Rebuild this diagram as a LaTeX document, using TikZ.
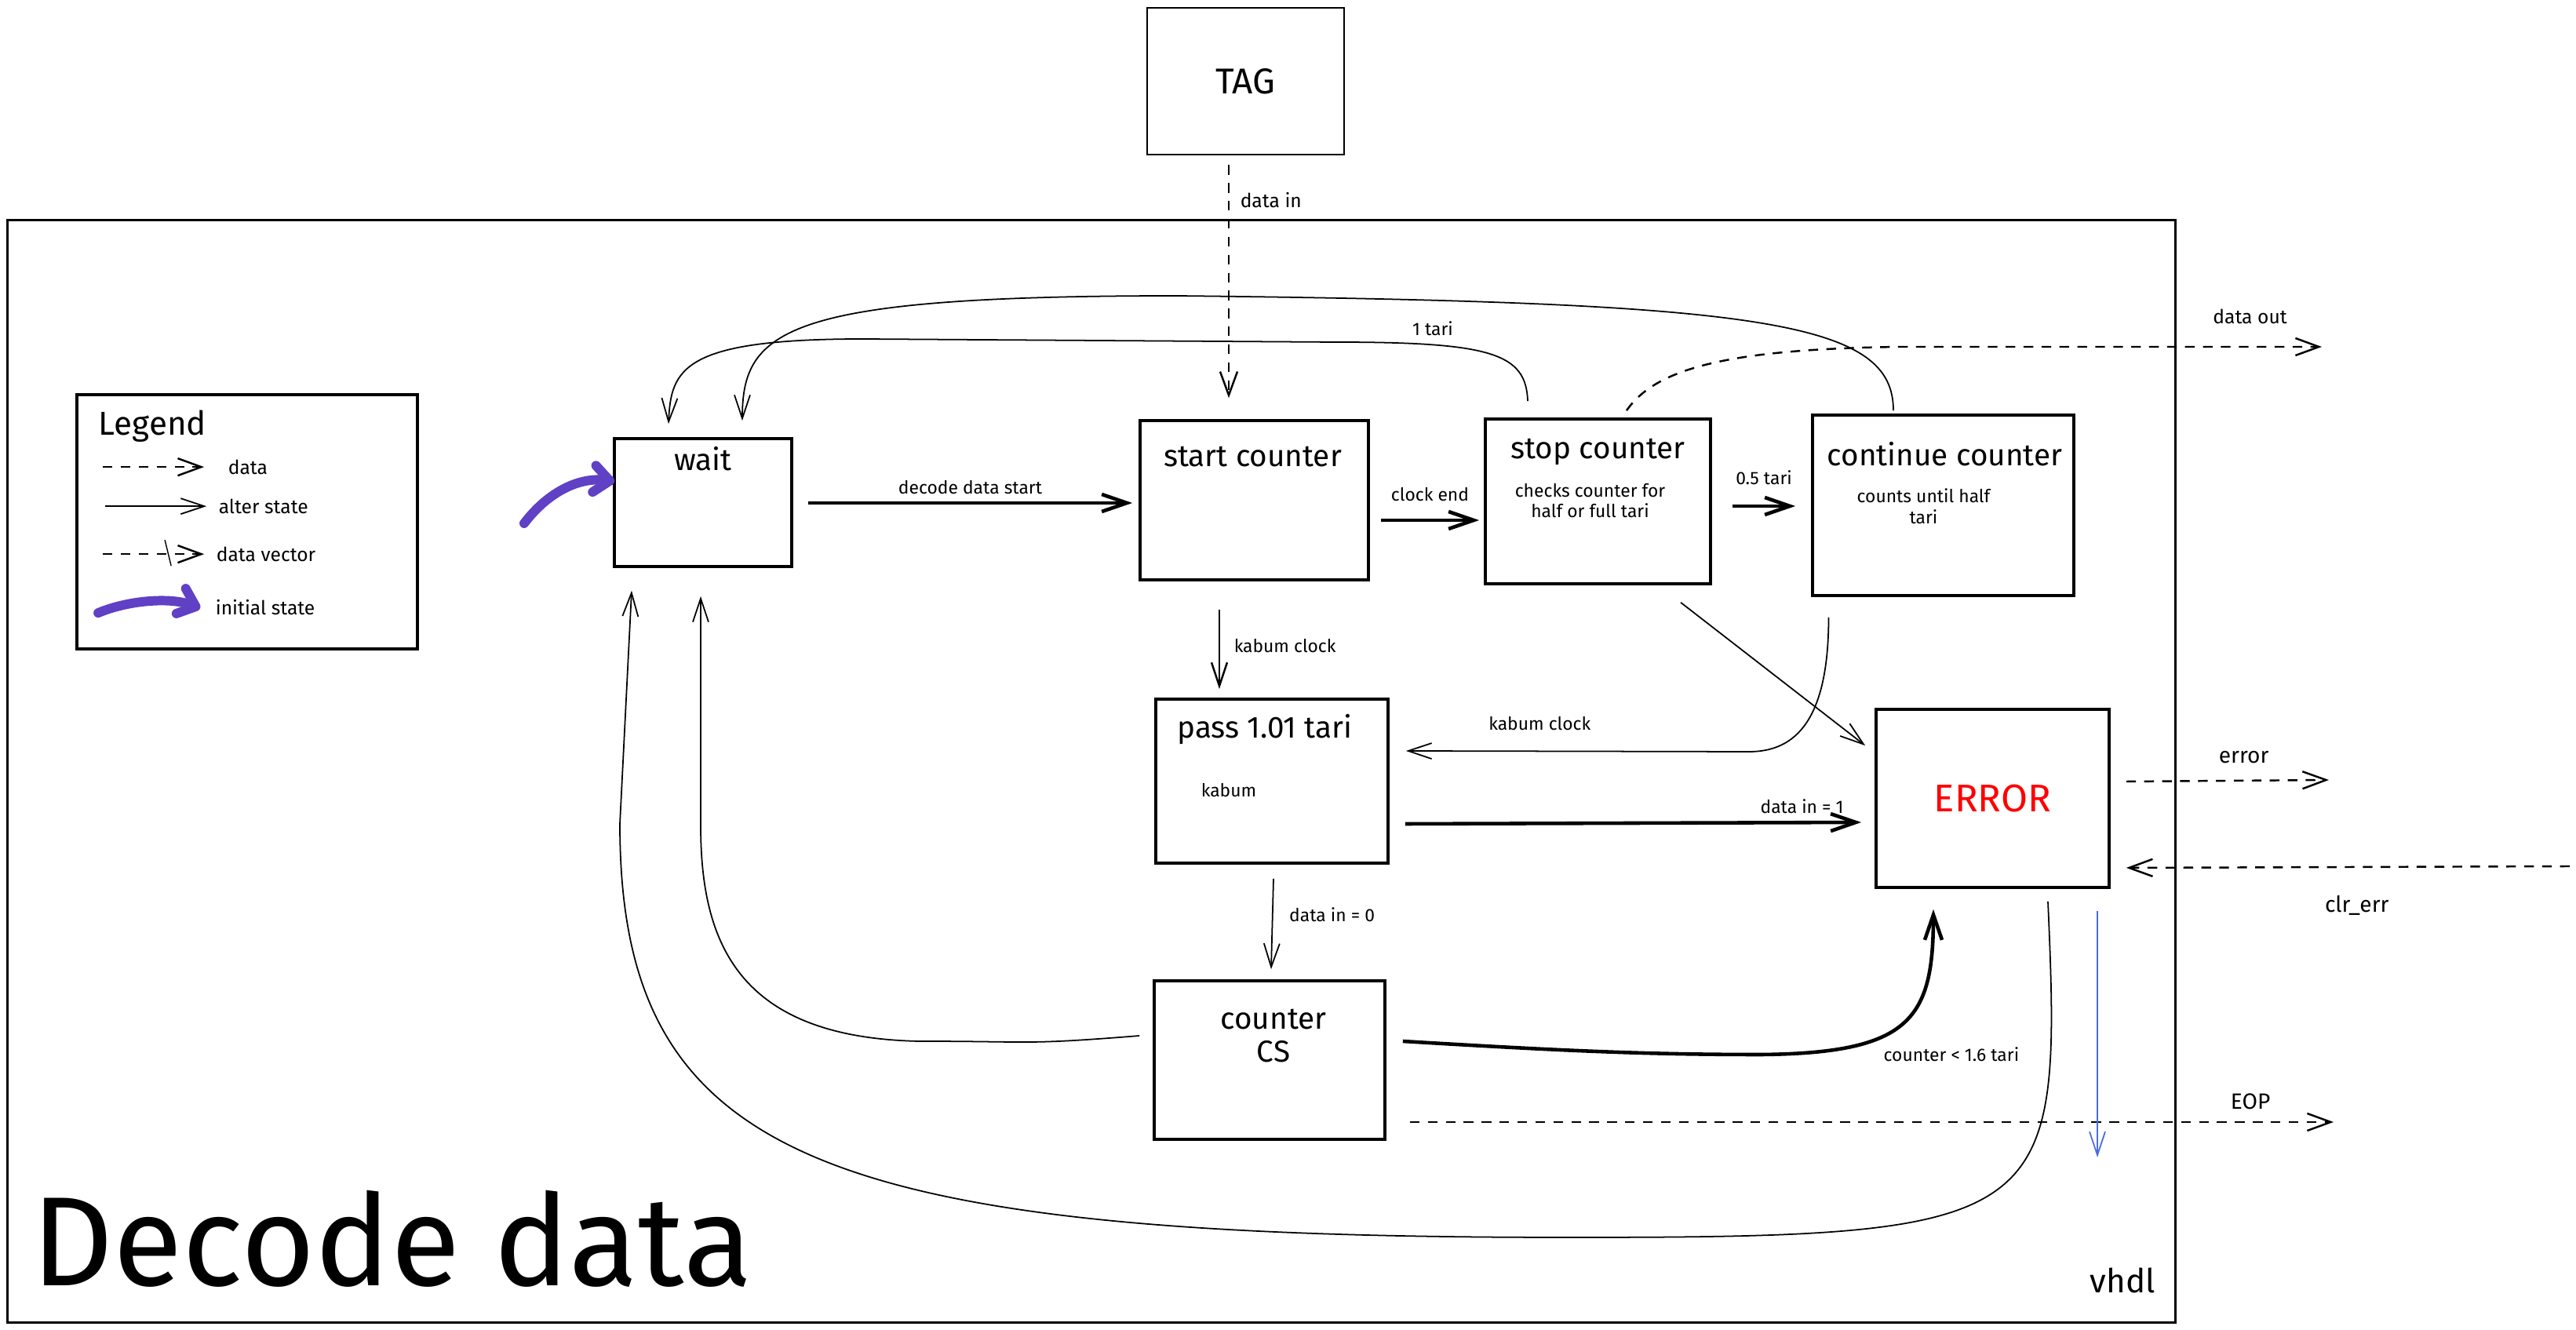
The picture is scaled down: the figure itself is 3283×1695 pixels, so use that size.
\documentclass[tikz,border=0pt]{standalone}
\usepackage{fontspec}
\setmainfont{Fira Sans}
\usepackage{tikz}
\usetikzlibrary{positioning,arrows.meta,calc}
\definecolor{initviolet}{RGB}{96,64,196}
\definecolor{eopblue}{RGB}{74,110,224}
\tikzset{
    block/.style = {
        draw,
        shape=rectangle,
        line width=1pt
    },
    statetitle/.style = {
        font=\fontsize{11}{12}\selectfont,
        align=center,
        inner sep=1pt
    },
    note/.style = {
        font=\fontsize{6.5}{7.5}\selectfont,
        align=center,
        inner sep=1pt
    },
    lbl/.style = {
        font=\fontsize{6.5}{7.5}\selectfont,
        inner sep=1pt
    },
    lgd/.style = {
        font=\fontsize{7}{8}\selectfont,
        anchor=west,
        inner sep=0pt
    },
    iolbl/.style = {
        font=\fontsize{8}{9.5}\selectfont,
        inner sep=1pt
    },
    alter/.style = {
        draw,
        line width=0.5pt,
        -{Straight Barb[length=0.3cm,width=0.2cm]}
    },
    alterbold/.style = {
        draw,
        line width=1.3pt,
        -{Straight Barb[length=0.32cm,width=0.22cm]}
    },
    dataflow/.style = {
        draw,
        line width=0.7pt,
        dash pattern=on 3.5pt off 3pt,
        -{Straight Barb[length=0.3cm,width=0.22cm]}
    },
    initarrow/.style = {
        draw=initviolet,
        line width=3.4pt,
        line cap=round,
        -{Straight Barb[length=0.2cm,width=0.34cm,round]}
    },
}

\begin{document}
\begin{tikzpicture}[x=0.01cm, y=-0.01cm]
    \useasboundingbox (0,0) rectangle (3283,1695);

    % frame, tag and legend
    \node[block, line width=0.8pt, minimum width=27.62cm, minimum height=14.04cm] (frame) at (1391,983) {};
    \node[block, line width=0.8pt, minimum width=2.51cm, minimum height=1.87cm, font=\fontsize{13}{15}\selectfont] (tag) at (1587.5,103.5) {TAG};
    \node[block, minimum width=4.34cm, minimum height=3.24cm] (legend) at (315,665) {};
    \node[anchor=west, inner sep=0pt, font=\fontsize{12}{14}\selectfont] (legendT) at ($(legend.north west)+(29,42)$) {Legend};

    \coordinate (lgdataA) at ($(legend.north west)+(35,94)$);
    \coordinate (lgdataB) at ($(legend.north west)+(164,94)$);
    \coordinate (lgaltA) at ($(legend.north west)+(38,144)$);
    \coordinate (lgaltB) at ($(legend.north west)+(167,144)$);
    \coordinate (lgvecA) at ($(legend.north west)+(35,205)$);
    \coordinate (lgvecB) at ($(legend.north west)+(164,205)$);
    \coordinate (lgtickA) at ($(legend.north west)+(114,187)$);
    \coordinate (lgtickB) at ($(legend.north west)+(122,220)$);
    \coordinate (lginitA) at ($(legend.north west)+(29,280)$);
    \coordinate (lginitB) at ($(legend.north west)+(159,274)$);

    \path[dataflow] (lgdataA) -- (lgdataB);
    \path[alter] (lgaltA) -- (lgaltB);
    \path[dataflow] (lgvecA) -- (lgvecB);
    \path[draw, line width=0.4pt] (lgtickA) -- (lgtickB);
    \path[initarrow] (lginitA) .. controls +(35,-15) and +(-40,-15) .. (lginitB);

    \node[lgd] (lgdataT) at ($(legend.north west)+(194,94)$) {data};
    \node[lgd] (lgaltT) at ($(legend.north west)+(182,144)$) {alter state};
    \node[lgd] (lgvecT) at ($(legend.north west)+(179,205)$) {data vector};
    \node[lgd] (lginitT) at ($(legend.north west)+(178,273)$) {initial state};

    % states
    \node[block, minimum width=2.26cm, minimum height=1.63cm] (wait) at (896,640.5) {};
    \node[statetitle] (waitT) at ($(wait.north)+(0,27)$) {wait};

    \node[block, minimum width=2.91cm, minimum height=2.03cm] (start) at (1598.5,637.5) {};
    \node[statetitle] (startT) at ($(start.north)+(-2,48)$) {start counter};

    \node[block, minimum width=2.87cm, minimum height=2.10cm] (stop) at (2036.5,639) {};
    \node[statetitle] (stopT) at ($(stop.north)+(0,44)$) {stop counter};
    \node[note] (stopN) at ($(stop.north)+(-10,106)$) {checks counter for\\half or full tari};

    \node[block, minimum width=3.33cm, minimum height=2.30cm] (cont) at (2476.5,644) {};
    \node[statetitle] (contT) at ($(cont.north)+(2,51)$) {continue counter};
    \node[note] (contN) at ($(cont.north)+(-25,118)$) {counts until half\\tari};

    \node[block, minimum width=2.96cm, minimum height=2.09cm] (pass) at (1621,995.5) {};
    \node[statetitle] (passT) at ($(pass.north)+(-9,40)$) {pass 1.01 tari};
    \node[lbl] (passN) at ($(pass.north)+(-55,118)$) {kabum};

    \node[block, minimum width=2.94cm, minimum height=2.02cm] (cs) at (1618,1351) {};
    \node[statetitle] (csT) at ($(cs.north)+(5,72)$) {counter\\CS};

    \node[block, minimum width=2.97cm, minimum height=2.27cm, text=red, font=\fontsize{14}{16}\selectfont] (err) at (2539.5,1017.5) {ERROR};

    \node[anchor=base west, inner sep=0pt, font=\fontsize{46}{50}\selectfont] (title) at ($(frame.south west)+(32,-48)$) {Decode data};
    \node[inner sep=0pt, font=\fontsize{12}{14}\selectfont] (vhdl) at ($(frame.south east)+(-69,-55)$) {vhdl};

    % initial state
    \coordinate (initstart) at (668,667);
    \path[initarrow] (initstart) .. controls (700,625) and (740,608) .. ($(wait.west)+(2,-27)$);

    % alter state
    \path[alterbold] ($(wait.east)+(19,0.5)$) -- node[lbl, above=0.05cm] (ldec) {decode data start} ($(start.west)+(-8,3.5)$);
    \path[alterbold] ($(start.east)+(14,25.5)$) -- node[lbl, above=0.18cm] (lclk) {clock end} ($(stop.west)+(-6,24)$);
    \path[alterbold] ($(stop.east)+(26,6)$) -- node[lbl, above=0.21cm] (lhalf) {0.5 tari} ($(cont.west)+(-20,1)$);
    \path[alter, line width=0.7pt] ($(start.south)+(-44.5,36)$) -- node[lbl, pos=0.46, right=0.14cm] (lkab) {kabum clock} ($(pass.north)+(-67,-11)$);
    \path[alter] ($(cont.south)+(-146,26)$) .. controls +(0,130) and +(60,0) .. (2229,958) -- node[lbl, pos=0.61, above=0.22cm] (lkabb) {kabum clock} ($(pass.east)+(21,-38.5)$);
    \path[alter] ($(stop.south)+(105.5,22)$) -- ($(err.north west)+(-12,48)$);
    \path[alterbold] ($(pass.east)+(20,54.5)$) -- node[lbl, pos=0.87, above=0.06cm] (lone) {data in = 1} ($(err.west)+(-17,30.5)$);
    \path[alter] ($(pass.south)+(2,18)$) -- node[lbl, pos=0.4, right=0.17cm] (lzero) {data in = 0} ($(cs.north)+(2,-13)$);
    \path[alterbold] ($(cs.east)+(21,-24)$) .. controls +(200,12) and +(-150,0) .. (2245,1344) .. controls +(190,-2) and +(0,140) .. ($(err.south)+(-75.5,26)$);
    \node[lbl, anchor=west] (lless) at ($(err.south)+(-143,211)$) {counter < 1.6 tari};

    % back to wait
    \path[alter] ($(cs.west)+(-17,-31)$) .. controls +(-150,12) and +(150,0) .. (1171,1327) .. controls +(-230,-5) and +(0,150) .. (893,1052) -- ($(wait.south)+(-3,36)$);
    \path[alter] ($(err.south)+(70.5,16)$) .. controls (2628,1560) and (2620,1577) .. (2000,1577) .. controls (1050,1577) and (790,1480) .. (790,1050) -- ($(wait.south)+(-91,29)$);
    \path[alter] ($(cont.north)+(-63.5,-4)$) .. controls (2413,410) and (2250,385) .. (1500,377) .. controls (1000,377) and (946,420) .. ($(wait.north)+(50,-21)$);
    \path[alter] ($(stop.north)+(-89.5,-21)$) .. controls (1945,450) and (1900,436) .. (1700,436) -- (1100,432) .. controls (870,432) and (855,470) .. ($(wait.north)+(-44,-17)$);
    \node[lbl] (ltari) at (1826,419) {1 tari};

    % data
    \path[dataflow] ($(tag.south)+(-21.5,12)$) -- node[lbl, font=\fontsize{7}{8}\selectfont, pos=0.15, right=0.1cm] (ldin) {data in} ($(start.north)+(-32.5,-27)$);

    \coordinate (dout) at (2959,442);
    \path[dataflow] ($(stop.north)+(36.5,-9)$) .. controls (2110,470) and (2200,445) .. (2421,442) -- node[lbl, font=\fontsize{7}{8}\selectfont, pos=0.83, above=0.24cm] (ldout) {data out} (dout);

    \coordinate (eout) at (2968,994);
    \path[dataflow] ($(err.east)+(20,-21.5)$) -- node[iolbl, pos=0.58, above=0.17cm] (lerr) {error} (eout);

    \coordinate (clrin) at (3275,1104);
    \path[dataflow] (clrin) -- node[iolbl, pos=0.48, below=0.32cm] (lclr) {clr\_err} ($(err.east)+(20,88.5)$);

    \coordinate (eop) at (2974,1430);
    \path[dataflow] ($(cs.east)+(30,79)$) -- node[iolbl, pos=0.91, above=0.11cm] (leop) {EOP} (eop);

    \coordinate (blueend) at (2673,1475);
    \path[alter, draw=eopblue] ($(err.south)+(133.5,28)$) -- (blueend);
\end{tikzpicture}
\end{document}
